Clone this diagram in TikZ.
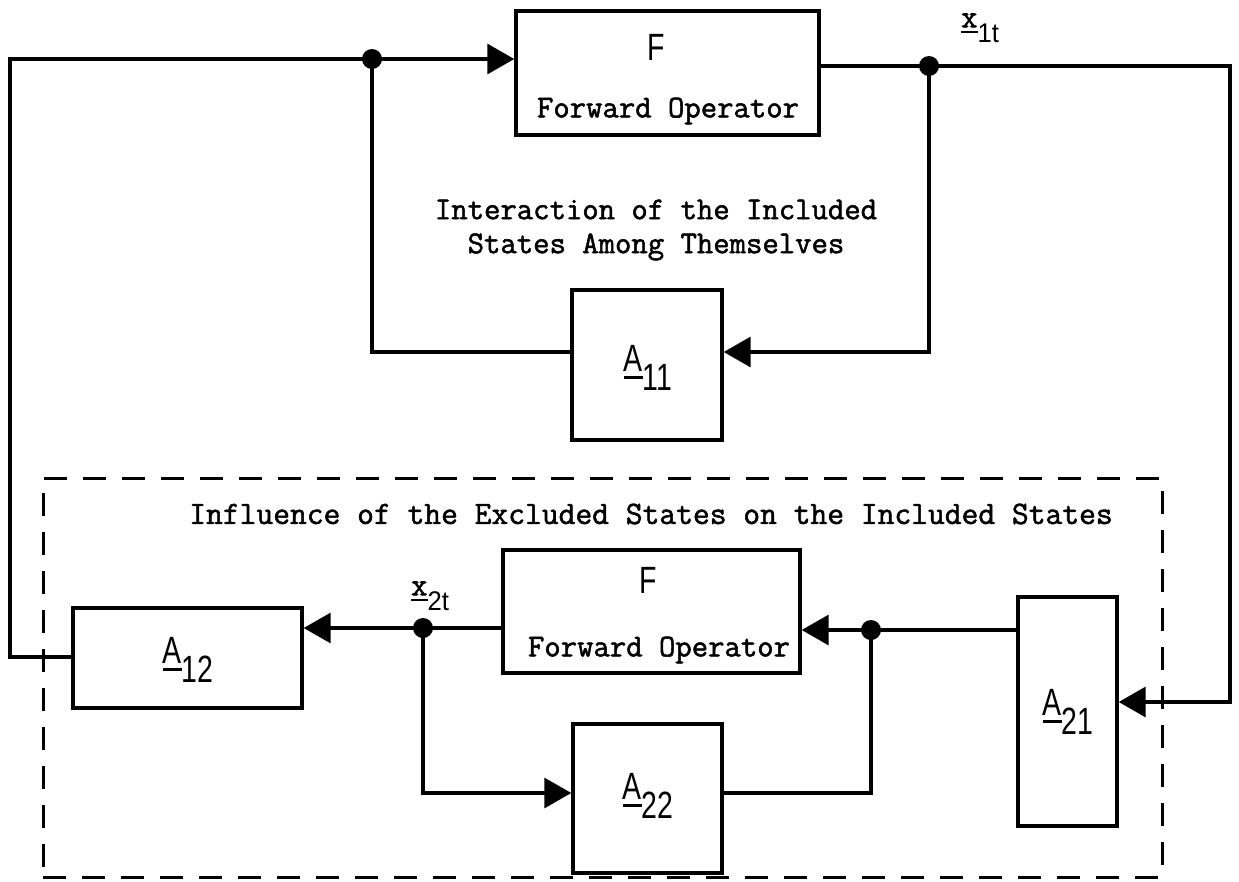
\documentclass[tikz,border=0pt]{standalone}
\usepackage{fontspec}
\usepackage{graphicx}
\newfontfamily\lett{Liberation Sans}
\newfontfamily\tw{Latin Modern Mono}[FakeBold=1.6]
\usetikzlibrary{arrows.meta}
\newcommand{\ulA}{\leavevmode\setbox0\hbox{A}\rlap{\rule[-7pt]{\wd0}{2.8pt}}\box0}
\newcommand{\Amat}[1]{\scalebox{0.75}[1]{\ulA\raisebox{-19pt}{#1}}}
\newcommand{\xlab}[1]{{\tw\fontsize{32}{34}\selectfont\setbox0\hbox{x}\rlap{\rule[-6pt]{\wd0}{2.6pt}}\box0}\raisebox{-15pt}{\scalebox{0.95}[1]{\lett\fontsize{27}{29}\selectfont #1}}}
\tikzset{
  line/.style={line width=3.4pt},
  blk/.style={draw, line width=3.4pt, inner sep=0pt},
  junc/.style={circle, fill, inner sep=0pt, minimum size=20pt},
  arr/.style={line width=3.4pt, -{Triangle[length=27pt,width=30pt]}},
  tt/.style={font=\fontsize{31.8}{34}\selectfont\tw, inner sep=0pt},
  lbl/.style={font=\fontsize{38}{40}\selectfont\lett, inner sep=0pt},
  grp/.style={draw, line width=3pt, dash pattern=on 23pt off 16pt, inner sep=0pt},
}
\begin{document}
\begin{tikzpicture}[x=1pt,y=-1pt]
\useasboundingbox (0,0) rectangle (1239,881);
% dashed group
\node[grp, minimum width=1119pt, minimum height=399pt] (group) at (602.5,677.5) {};
% boxes
\node[blk, minimum width=303pt, minimum height=124pt] (F1) at (667.5,73) {};
\node[blk, minimum width=150pt, minimum height=150pt] (A11) at (647,365) {};
\node[blk, minimum width=297pt, minimum height=123pt] (F2) at (651.5,611.5) {};
\node[blk, minimum width=229pt, minimum height=100pt] (A12) at (187.5,658) {};
\node[blk, minimum width=99pt, minimum height=229pt] (A21) at (1067.5,711.5) {};
\node[blk, minimum width=149pt, minimum height=149pt] (A22) at (647.5,798.5) {};
% box texts
\node[lbl] (F1t) at (656,47) {\scalebox{0.75}[1]{F}};
\node[tt] (F1o) at (668,111) {Forward Operator};
\node[lbl] (F2t) at (648,580) {\scalebox{0.75}[1]{F}};
\node[tt] (F2o) at (659,650) {Forward Operator};
\node[lbl] (A11t) at (648,368) {\Amat{11}};
\node[lbl] (A12t) at (188,660) {\Amat{12}};
\node[lbl] (A21t) at (1068,712) {\Amat{21}};
\node[lbl] (A22t) at (648,796) {\Amat{22}};
% free texts
\node[tt, align=center] (inter) at (656,230) {Interaction of the Included\\States Among Themselves};
\node[tt, font=\fontsize{32.6}{34}\selectfont\tw] (infl) at (651,514) {Influence of the Excluded States on the Included States};
\node[inner sep=0pt] (x1) at (980,28) {\xlab{1t}};
\node[inner sep=0pt] (x2) at (430,596) {\xlab{2t}};
% junctions
\node[junc] (dL) at (372,59) {};
\node[junc] (dR) at (929,66) {};
\node[junc] (dx) at (423,628) {};
\node[junc] (d2) at (871,630) {};
% corner coordinates
\coordinate (cTR) at (1230,66);
\coordinate (cBR) at (1230,702);
\coordinate (cA11R) at (929,352);
\coordinate (cA11L) at (372,352);
\coordinate (cTL) at (10,59);
\coordinate (cBL) at (10,657);
\coordinate (cL22) at (423,793);
\coordinate (cR22) at (871,793);
% connectors
\draw[arr] (dL.center) -- (F1.west |- dL);
\draw[line] (F1.east |- dR) -- (dR.center);
\draw[arr] (dR.center) -- (cTR) -- (cBR) -- (A21.east |- cBR);
\draw[arr] (dR.center) -- (cA11R) -- (A11.east |- cA11R);
\draw[line] (A11.west |- cA11L) -- (cA11L) -- (dL.center);
\draw[line] (dL.center) -- (cTL) -- (cBL) -- (A12.west |- cBL);
\draw[arr] (A21.west |- d2) -- (d2.center) -- (F2.east |- d2);
\draw[line] (F2.west |- dx) -- (dx.center);
\draw[arr] (dx.center) -- (A12.east |- dx);
\draw[arr] (dx.center) -- (cL22) -- (A22.west |- cL22);
\draw[line] (A22.east |- cR22) -- (cR22) -- (d2.center);
\end{tikzpicture}
\end{document}
